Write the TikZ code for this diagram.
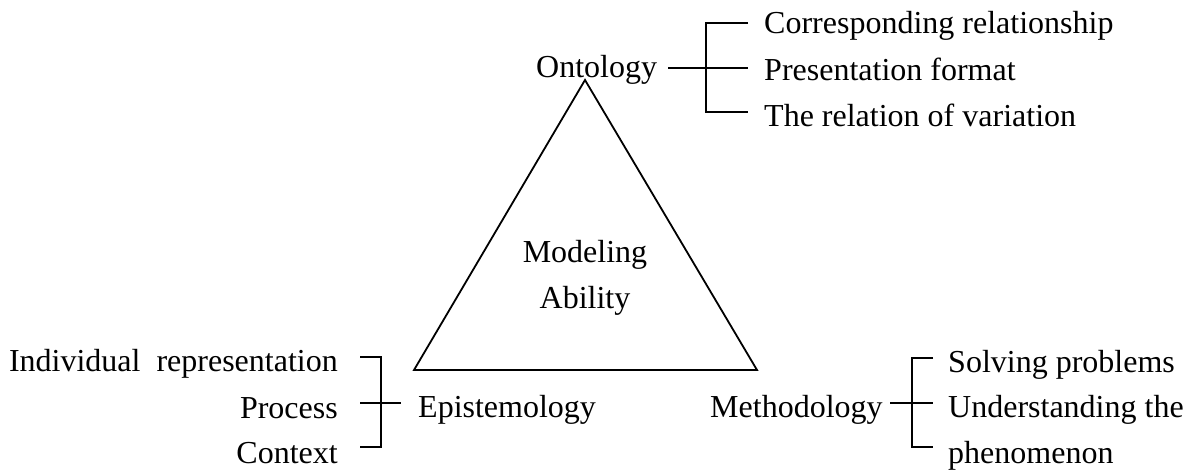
\documentclass[tikz,border=0pt]{standalone}
\usepackage{fontspec}
\setmainfont{Liberation Serif}
\begin{document}
\begin{tikzpicture}[x=1pt,y=-1pt,
  lbl/.style={inner sep=0pt,font=\fontsize{32}{38}\selectfont},
  ln/.style={line width=1.8pt},
]
\useasboundingbox (0,0) rectangle (1185,470);
% triangle
\coordinate (apex) at (585,80);
\coordinate (bl) at (414,370);
\coordinate (br) at (757,370);
\draw[ln,line join=miter] (apex) -- (bl) -- (br) -- cycle;
% center
\node[lbl,anchor=base] (mod) at (585,262) {Modeling};
\node[lbl,anchor=base] (abi) at (585,308) {Ability};
% Ontology
\node[lbl,anchor=base west] (onto) at (536,78) {Ontology};
\node[lbl,anchor=base west] (o1) at (764,34) {Corresponding relationship};
\node[lbl,anchor=base west] (o2) at (764,81) {Presentation format};
\node[lbl,anchor=base west] (o3) at (764,127) {The relation of variation};
\coordinate (ot) at (706,23);
\coordinate (om) at (706,68);
\coordinate (ob) at (706,112);
\coordinate (ot2) at (748,23);
\coordinate (om2) at (748,68);
\coordinate (ob2) at (748,112);
\coordinate (om0) at (668,68);
\draw[ln] (ot2) -- (ot) -- (ob) -- (ob2);
\draw[ln] (om0) -- (om2);
% Epistemology
\node[lbl,anchor=base west] (epi) at (418,417) {Epistemology};
\node[lbl,anchor=base east] (e1) at (338,371) {Individual\ \ representation};
\node[lbl,anchor=base east] (e2) at (338,418) {Process};
\node[lbl,anchor=base east] (e3) at (338,463) {Context};
\coordinate (et) at (381,357);
\coordinate (eb) at (381,447);
\coordinate (et0) at (360,357);
\coordinate (eb0) at (360,447);
\coordinate (em0) at (360,403);
\coordinate (em2) at (401,403);
\draw[ln] (et0) -- (et) -- (eb) -- (eb0);
\draw[ln] (em0) -- (em2);
% Methodology
\node[lbl,anchor=base west] (met) at (710,417) {Methodology};
\node[lbl,anchor=base west] (m1) at (948,372) {Solving problems};
\node[lbl,anchor=base west] (m2) at (948,417) {Understanding the};
\node[lbl,anchor=base west] (m3) at (948,463) {phenomenon};
\coordinate (mt) at (912,358);
\coordinate (mb) at (912,447);
\coordinate (mt2) at (933,358);
\coordinate (mb2) at (933,447);
\coordinate (mm0) at (890,403);
\coordinate (mm2) at (933,403);
\draw[ln] (mt2) -- (mt) -- (mb) -- (mb2);
\draw[ln] (mm0) -- (mm2);
\end{tikzpicture}
\end{document}
